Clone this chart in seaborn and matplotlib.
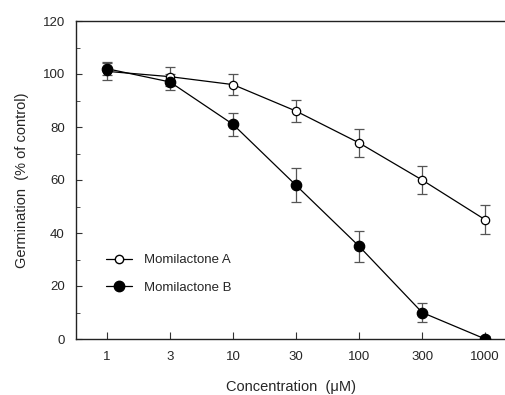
import numpy as np
import pandas as pd
import matplotlib
matplotlib.use("Agg")
import matplotlib.pyplot as plt
import seaborn as sns
from matplotlib.ticker import MultipleLocator

# data
concentrations = ["1", "3", "10", "30", "100", "300", "1000"]
mom_a = [101, 99, 96, 86, 74, 60, 45]
mom_a_err = [3.3, 3.5, 4.0, 4.2, 5.2, 5.2, 5.4]
mom_b = [102, 97, 81, 58, 35, 10, 0]
mom_b_err = [2.5, 3.0, 4.4, 6.4, 5.8, 3.5, 1.0]

sns.set_style("ticks")
plt.rcParams['font.family'] = ['Liberation Sans', 'DejaVu Sans']

df = pd.DataFrame({
    'pos': list(range(len(concentrations))) * 2,
    'value': mom_a + mom_b,
    'err': mom_a_err + mom_b_err,
    'series': ['Momilactone A'] * len(mom_a) + ['Momilactone B'] * len(mom_b),
})

fig = plt.figure(figsize=(5.06, 3.95), dpi=100)
ax = fig.add_axes([76 / 506, 1 - 339 / 395, 1 - 76 / 506, 318 / 395])

styles = {
    'Momilactone A': dict(mfc='white', ms=6.0),
    'Momilactone B': dict(mfc='black', ms=7.5),
}

# error bars first so the markers sit on top
for name, sub in df.groupby('series'):
    ax.errorbar(sub['pos'], sub['value'], yerr=sub['err'], fmt='none',
                ecolor='#555555', elinewidth=0.9, capsize=3.5, capthick=0.9, zorder=2)

sns.lineplot(data=df, x='pos', y='value', hue='series', palette=['black', 'black'],
             linewidth=0.9, legend=False, ax=ax, zorder=3)

for name, sub in df.groupby('series'):
    ax.plot(sub['pos'], sub['value'], 'o', mec='black', mew=0.9, zorder=4,
            linestyle='none', **styles[name])

ax.set_xlim(-0.49, 6.33)
ax.set_ylim(0, 120)
ax.set_xticks(range(len(concentrations)))
ax.set_xticklabels(concentrations)
ax.yaxis.set_major_locator(MultipleLocator(20))
ax.yaxis.set_minor_locator(MultipleLocator(10))
ax.tick_params(axis='both', which='both', direction='in', labelsize=9.5, color='#333333')
ax.tick_params(axis='x', length=5, pad=9)
ax.tick_params(axis='y', which='major', length=4, pad=8)
ax.tick_params(axis='y', which='minor', length=3)

for side in ['left', 'bottom', 'top']:
    ax.spines[side].set_linewidth(1.0)
    ax.spines[side].set_color('#222222')
ax.spines['right'].set_visible(False)

ax.set_xlabel('Concentration  (\u03bcM)', fontsize=10.5, labelpad=12)
ax.set_ylabel('Germination  (% of control)', fontsize=10.5, labelpad=10)

handles = [
    plt.Line2D([], [], color='black', lw=0.9, marker='o', mfc='white', mec='black', ms=6.0),
    plt.Line2D([], [], color='black', lw=0.9, marker='o', mfc='black', mec='black', ms=7.5),
]
ax.legend(handles, ['Momilactone A', 'Momilactone B'], loc='lower left',
          bbox_to_anchor=(0.042, 0.105), frameon=False, fontsize=9.5,
          handlelength=2.0, labelspacing=1.15, handletextpad=0.9)

plt.savefig('out.png', dpi=100)
plt.close()
